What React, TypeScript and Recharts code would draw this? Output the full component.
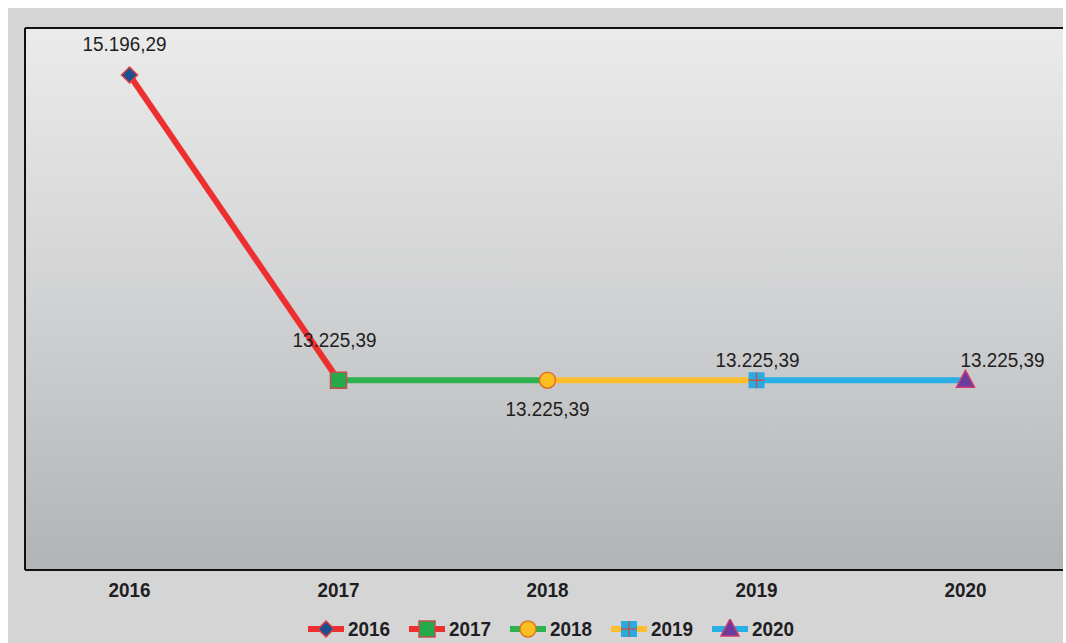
import React from "react";
import { CartesianGrid, Legend, Line, LineChart, XAxis, YAxis } from "recharts";

const categories = ["2016", "2017", "2018", "2019", "2020"];
const values = [15196.29, 13225.39, 13225.39, 13225.39, 13225.39];
const yDomain = [12000, 15500];
const lineColors = ["#ee2f2f", "#ee2f2f", "#2db24e", "#fdbe2c", "#2aafe5"];
const markerKinds = ["diamond", "square", "circle", "cross", "triangle"];

// each series runs from the previous year to its own year
const data = categories.map((year, i) => {
    const row: any = { year };
    categories.forEach((s, j) => {
        if (j === i || j === i + 1) row[s] = values[i];
    });
    return row;
});

const fmt = (v: number) => {
    const [int, dec] = v.toFixed(2).split(".");
    return int.replace(/\B(?=(\d{3})+(?!\d))/g, ".") + "," + dec;
};

const font = "'Liberation Sans', Arial, sans-serif";

// slightly condensed text, like the original export
const NText = ({ x, y, bold, children }: any) => (
    <text
        transform={`translate(${x},${y}) scale(0.9,1)`}
        textAnchor="middle"
        dominantBaseline="central"
        fontSize={21}
        fontFamily={font}
        fontWeight={bold ? "bold" : "normal"}
        fill="#1e1e22"
    >
        {children}
    </text>
);

const Marker = ({ kind, cx, cy }: { kind: string; cx: number; cy: number }) => {
    if (kind === "diamond")
        return (
            <polygon
                points={`${cx},${cy - 8} ${cx + 8},${cy} ${cx},${cy + 8} ${cx - 8},${cy}`}
                fill="#1f4f8f"
                stroke="#e0403a"
                strokeWidth={1.5}
            />
        );
    if (kind === "square")
        return <rect x={cx - 8} y={cy - 8} width={16} height={16} fill="#25a94a" stroke="#c0504d" strokeWidth={1.5} />;
    if (kind === "circle") return <circle cx={cx} cy={cy} r={8} fill="#fdbf1f" stroke="#e0722c" strokeWidth={1.5} />;
    if (kind === "cross")
        return (
            <g>
                <rect x={cx - 8} y={cy - 8} width={16} height={16} fill="#29abe2" />
                <line x1={cx} y1={cy - 8} x2={cx} y2={cy + 8} stroke="#d9433c" strokeWidth={1.2} />
                <line x1={cx - 8} y1={cy} x2={cx + 8} y2={cy} stroke="#d9433c" strokeWidth={1.2} />
            </g>
        );
    return (
        <polygon
            points={`${cx},${cy - 10} ${cx + 9},${cy + 7} ${cx - 9},${cy + 7}`}
            fill="#6a3d9c"
            stroke="#d2386b"
            strokeWidth={1.5}
        />
    );
};

const labelShift = [
    { dx: -5, dy: -31 },
    { dx: -4, dy: -41 },
    { dx: 0, dy: 28 },
    { dx: 1, dy: -21 },
    { dx: 37, dy: -21 },
];

const YearTick = ({ x, y, payload }: any) => (
    <NText x={x} y={y + 12} bold>
        {payload.value}
    </NText>
);

const LegendContent = () => (
    <div style={{ display: "flex", justifyContent: "center", paddingLeft: 8, height: 24, alignItems: "center" }}>
        {categories.map((c, i) => (
            <div key={c} style={{ display: "flex", alignItems: "center", marginRight: i < 4 ? 19 : 0 }}>
                <svg width={36} height={20}>
                    <line x1={0} y1={10} x2={36} y2={10} stroke={lineColors[i]} strokeWidth={6} />
                    <Marker kind={markerKinds[i]} cx={18} cy={10} />
                </svg>
                <span
                    style={{
                        display: "inline-block",
                        width: 42,
                        marginLeft: 4,
                        fontFamily: font,
                        fontWeight: "bold",
                        fontSize: 21,
                        color: "#1e1e24",
                        transform: "scaleX(0.9)",
                        transformOrigin: "left center",
                        whiteSpace: "nowrap",
                    }}
                >
                    {c}
                </span>
            </div>
        ))}
    </div>
);

export default function App() {
    return (
        <div
            style={{
                position: "fixed",
                left: 8,
                top: 8,
                width: 1055,
                height: 635,
                background: "#d5d5d5",
                overflow: "hidden",
            }}
        >
            <LineChart width={1070} height={635} data={data} margin={{ top: 19, right: 8, left: 15, bottom: 2 }}>
                <defs>
                    <linearGradient id="plotBg" x1="0" y1="0" x2="0" y2="1">
                        <stop offset="0%" stopColor="#ebebeb" />
                        <stop offset="50%" stopColor="#d1d2d3" />
                        <stop offset="100%" stopColor="#b1b3b5" />
                    </linearGradient>
                </defs>
                <CartesianGrid fill="url(#plotBg)" horizontal={false} vertical={false} />
                <XAxis
                    dataKey="year"
                    padding={{ left: 104.5, right: 104.5 }}
                    height={47}
                    tickLine={false}
                    axisLine={{ stroke: "#111", strokeWidth: 2 }}
                    tick={<YearTick />}
                />
                <XAxis
                    xAxisId="top"
                    orientation="top"
                    dataKey="year"
                    height={1}
                    tick={false}
                    tickLine={false}
                    axisLine={{ stroke: "#111", strokeWidth: 2 }}
                />
                <YAxis
                    domain={yDomain}
                    width={2}
                    tick={false}
                    tickLine={false}
                    allowDataOverflow
                    axisLine={{ stroke: "#111", strokeWidth: 2 }}
                />
                <Legend verticalAlign="bottom" content={<LegendContent />} />
                {categories.map((c, j) => (
                    <Line
                        key={c}
                        dataKey={c}
                        stroke={lineColors[j]}
                        strokeWidth={6}
                        isAnimationActive={false}
                        dot={(p: any) =>
                            p.index === j ? (
                                <Marker key={`d${j}`} kind={markerKinds[j]} cx={p.cx} cy={p.cy} />
                            ) : (
                                <g key={`d${j}-${p.index}`} />
                            )
                        }
                        activeDot={false}
                        label={(p: any) =>
                            p.index === j ? (
                                <NText key={`l${j}`} x={p.x + labelShift[j].dx} y={p.y + labelShift[j].dy}>
                                    {fmt(values[j])}
                                </NText>
                            ) : (
                                <g key={`l${j}-${p.index}`} />
                            )
                        }
                    />
                ))}
            </LineChart>
        </div>
    );
}
